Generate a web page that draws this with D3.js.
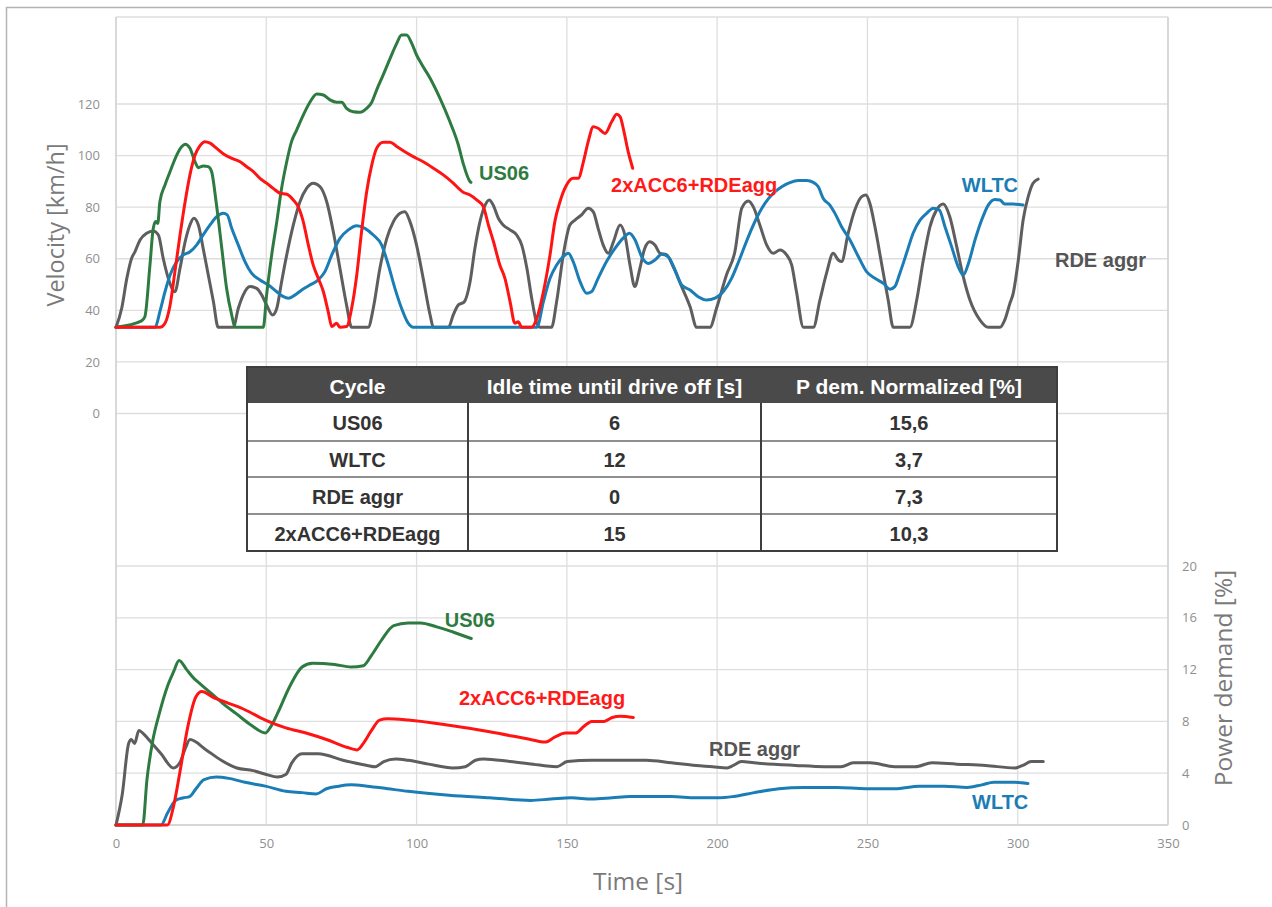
<!DOCTYPE html>
<html>
<head>
<meta charset="utf-8">
<script src="https://cdn.jsdelivr.net/npm/d3@7"></script>
<style>
  html, body { margin: 0; padding: 0; background: #fff; }
  svg { display: block; }
  .tick text { font-family: "Open Sans", "Noto Sans", sans-serif; font-size: 13px; fill: #8f8f8f; }
</style>
</head>
<body>
<svg id="chart" width="1272" height="907"></svg>
<script>
// ---- Velocity traces [time s, km/h] ----
const us06Speed = [[0,33.4],[8.5,35.9],[9.6,37.5],[11.3,57.6],[12.4,71.8],[13.2,74.4],[13.9,73.7],[14.6,82.1],[16.3,88.6],[18.0,93.8],[20.2,100.2],[21.9,103.5],[23.0,104.4],[24.6,102.8],[26.3,97.6],[27.4,95.3],[29.0,96.0],[30.7,95.7],[31.8,93.8],[33.3,82.1],[35.2,64.0],[36.8,48.5],[38.5,38.2],[39.6,33.4],[49.0,33.4],[50.1,45.9],[51.8,61.5],[53.5,74.4],[55.1,87.3],[56.8,97.6],[58.4,105.4],[60.1,109.9],[62.3,115.7],[64.5,120.7],[66.8,123.9],[69.0,123.5],[71.2,121.6],[73.4,120.7],[75.1,120.7],[76.7,118.3],[78.9,117.0],[81.2,116.8],[83.4,118.3],[85.1,120.7],[86.7,125.4],[88.9,131.3],[91.2,137.7],[93.4,143.5],[95.0,146.8],[96.7,146.8],[98.4,143.5],[100.0,139.0],[101.7,135.4],[104.5,130.0],[107.8,122.2],[111.1,113.1],[113.9,104.1],[115.5,97.0],[117.8,89.9],[118.1,89.6]];
const wltcSpeed = [[0,33.4],[13.0,33.4],[14.6,39.5],[16.3,47.2],[18.0,53.7],[20.2,58.9],[22.4,61.5],[24.6,62.7],[26.8,65.3],[29.0,69.2],[31.3,73.1],[33.5,76.3],[35.7,77.6],[37.0,77.0],[38.5,71.8],[40.7,65.3],[42.9,58.9],[45.1,54.4],[47.9,51.8],[50.7,49.8],[53.5,47.2],[55.7,45.3],[57.3,44.7],[59.5,45.9],[61.8,47.9],[64.5,49.8],[67.3,51.8],[69.5,55.0],[71.8,61.5],[74.5,67.9],[77.3,71.2],[80.1,72.8],[82.8,71.8],[85.6,69.2],[88.4,65.3],[90.6,57.6],[92.8,48.5],[95.0,40.8],[97.2,35.0],[98.9,33.4],[140.0,33.4],[142.2,43.4],[144.4,52.4],[146.6,57.6],[148.8,60.8],[150.5,62.1],[152.1,58.9],[154.4,51.1],[156.6,46.6],[158.2,47.2],[160.4,52.4],[163.2,58.9],[166.0,64.0],[168.8,68.1],[170.8,69.9],[172.7,67.3],[174.9,60.8],[177.1,58.2],[179.3,59.5],[181.5,61.7],[183.7,60.8],[186.0,55.6],[188.2,49.8],[191.0,47.9],[193.7,45.3],[196.5,44.0],[199.3,44.7],[202.0,47.2],[204.8,52.4],[207.6,60.2],[210.4,68.6],[213.1,75.7],[215.9,81.5],[218.7,85.4],[221.5,87.9],[224.2,89.5],[227.0,90.3],[229.8,90.3],[232.0,89.6],[233.6,88.0],[235.3,83.4],[237.5,80.8],[239.2,77.6],[241.4,72.4],[244.2,67.3],[247.0,60.8],[249.7,55.0],[252.5,52.4],[255.3,50.5],[257.5,48.2],[259.1,49.2],[260.8,54.4],[263.0,62.1],[265.2,69.9],[267.5,75.0],[269.7,77.6],[271.9,79.6],[273.9,78.9],[275.8,72.4],[278.0,64.7],[280.2,56.9],[281.9,53.7],[283.6,58.2],[285.8,67.3],[288.0,75.0],[290.2,80.8],[292.4,83.0],[294.1,82.8],[295.7,81.2],[298.5,81.2],[301.8,80.8]];
const rdeSpeed = [[0,33.4],[1.9,40.8],[3.6,52.4],[5.2,60.2],[6.3,62.7],[8.0,67.3],[10.2,69.9],[12.4,70.8],[14.1,69.2],[15.7,60.2],[17.4,52.4],[19.6,47.2],[21.3,56.3],[23.0,66.6],[24.6,73.1],[25.9,75.7],[27.4,73.1],[29.0,64.0],[30.7,53.7],[32.4,43.4],[34.0,33.4],[39.0,33.4],[40.7,40.8],[42.3,45.9],[44.6,49.2],[46.8,48.5],[48.5,45.9],[50.1,42.1],[52.1,38.2],[53.5,40.8],[55.1,51.1],[56.8,61.5],[59.0,73.1],[61.2,82.1],[63.4,87.3],[65.6,89.3],[67.9,87.9],[70.1,82.1],[72.3,70.5],[74.5,56.3],[76.7,42.1],[78.4,33.4],[83.9,33.4],[85.6,40.8],[87.8,56.3],[90.1,67.9],[92.3,74.4],[94.5,77.6],[96.1,78.2],[97.8,74.4],[100.0,65.3],[102.2,52.4],[104.5,38.2],[105.6,33.4],[110.6,33.4],[112.2,38.2],[113.9,42.1],[115.8,43.2],[117.8,51.1],[119.4,64.0],[121.1,74.4],[122.8,80.8],[124.2,82.8],[125.5,80.8],[127.2,75.7],[128.8,73.1],[131.1,71.2],[133.3,69.2],[135.0,65.3],[136.7,56.3],[138.3,44.7],[140.0,35.0],[141.1,33.4],[144.9,33.4],[146.6,43.4],[148.8,61.5],[151.0,73.1],[152.7,75.0],[154.9,77.0],[157.1,79.6],[158.8,78.2],[160.4,71.8],[162.1,65.3],[163.8,62.1],[165.5,66.6],[167.7,73.1],[169.3,69.2],[171.0,57.6],[172.6,49.2],[174.3,56.3],[175.9,64.0],[177.6,66.6],[179.3,65.3],[181.0,62.1],[183.2,61.5],[185.4,56.9],[188.2,49.2],[191.0,41.4],[193.2,33.4],[197.6,33.4],[199.8,40.8],[203.1,53.7],[205.9,62.7],[208.2,79.6],[210.4,82.4],[212.0,80.2],[214.2,73.1],[216.5,65.3],[218.7,62.1],[220.9,63.4],[223.1,61.5],[224.8,57.6],[226.4,47.2],[228.7,33.4],[232.0,33.4],[234.2,44.0],[236.4,54.4],[238.6,62.1],[240.3,59.5],[241.4,58.9],[243.6,69.9],[245.8,78.9],[248.1,84.1],[249.5,84.7],[250.8,81.5],[252.5,72.4],[254.7,58.2],[256.9,44.0],[258.6,33.4],[264.1,33.4],[266.4,44.0],[268.6,59.5],[270.8,72.4],[273.0,78.9],[275.2,81.2],[277.4,76.3],[279.7,64.7],[281.9,53.0],[284.1,44.0],[287.4,36.3],[290.2,33.4],[294.1,33.4],[295.7,36.3],[297.4,42.7],[298.5,46.6],[300.2,59.5],[301.8,75.0],[303.5,84.1],[305.1,89.3],[306.8,90.9]];
const accSpeed = [[0,33.4],[14.6,33.4],[16.3,35.0],[18.0,42.1],[19.6,55.0],[21.3,69.2],[23.0,82.1],[24.6,92.5],[26.3,100.2],[27.9,103.8],[29.6,105.4],[31.3,104.8],[33.5,102.8],[36.3,100.2],[39.0,98.7],[41.3,97.6],[43.5,95.7],[45.7,93.8],[47.9,91.2],[50.1,89.3],[52.3,87.3],[54.6,85.4],[56.8,85.0],[59.0,82.8],[60.6,80.2],[62.3,74.4],[64.0,65.3],[65.6,57.6],[67.3,52.4],[69.0,47.2],[70.6,39.5],[71.8,33.7],[73.4,35.0],[74.5,33.4],[76.7,33.7],[78.4,40.8],[80.1,53.7],[81.7,70.5],[83.4,86.0],[85.1,96.4],[86.7,102.8],[88.9,105.2],[91.2,105.2],[93.4,103.5],[96.1,101.5],[98.9,99.6],[102.2,97.6],[105.6,95.1],[108.9,92.5],[112.2,89.3],[115.5,85.8],[117.8,84.7],[120.0,82.8],[122.2,80.2],[123.9,73.1],[125.6,66.6],[127.7,57.6],[129.4,52.4],[131.1,43.4],[132.7,35.0],[133.8,35.6],[135.0,33.4],[138.3,33.4],[140.0,36.9],[142.2,47.2],[144.4,61.5],[146.0,74.4],[147.7,82.1],[149.9,88.6],[152.1,91.2],[153.8,91.2],[155.5,97.6],[157.1,105.4],[158.8,111.2],[160.4,110.6],[162.7,108.6],[164.9,113.1],[166.6,116.0],[167.7,115.1],[169.0,109.3],[170.4,101.5],[171.9,95.1]];

// ---- Power demand traces [time s, %] ----
const us06Power = [[0,0],[8.9,0],[10.3,3.5],[12.3,6.6],[14.4,8.6],[17.1,10.7],[19.1,11.8],[21.0,12.7],[23.5,12.0],[26.0,11.3],[28.0,10.9],[32,10.1],[36,9.3],[40,8.6],[45,7.7],[49.7,7.1],[51.5,7.6],[53.7,8.6],[57.8,10.7],[61.9,12.2],[65.3,12.5],[72.7,12.4],[78.2,12.2],[82.3,12.3],[85.0,13.1],[88.4,14.3],[92.4,15.4],[97.2,15.6],[101.3,15.6],[106.7,15.3],[112.1,14.9],[118.2,14.4]];
const wltcPower = [[0,0],[15.0,0],[17.1,0.9],[19.8,1.9],[22.5,2.1],[24.5,2.2],[26.6,2.8],[29.3,3.5],[33.4,3.7],[37.5,3.6],[42.9,3.3],[49.7,3.0],[56.5,2.6],[61.9,2.5],[66.6,2.4],[70.0,2.8],[74.1,3.0],[78.2,3.1],[83.6,3.0],[90.4,2.8],[97.2,2.6],[110.8,2.3],[124.3,2.1],[137.9,1.9],[144.7,2.0],[151.5,2.1],[158.3,2.0],[165.1,2.1],[171,2.2],[184.8,2.2],[193.0,2.1],[200.6,2.1],[205.4,2.2],[212.3,2.5],[220.5,2.8],[228.8,2.9],[239.8,2.9],[249.5,2.8],[259.1,2.8],[267.3,3.0],[275.6,3.0],[283.2,2.9],[288.0,3.1],[292.1,3.3],[299.0,3.3],[303.4,3.2]];
const rdePower = [[0,0],[2.1,2.4],[4.2,6.3],[5.1,6.6],[6.2,6.3],[7.6,7.3],[8.9,7.1],[11.6,6.4],[15.0,5.5],[19.1,4.4],[21.2,4.8],[23.2,6.0],[24.6,6.6],[30,5.8],[35,5.0],[40.2,4.4],[45.6,4.2],[50,3.9],[53.7,3.7],[56.5,3.9],[58.5,4.8],[61.9,5.5],[67.3,5.5],[75.5,5.0],[83.6,4.6],[86.3,4.5],[89.1,4.9],[93.1,5.1],[97.2,5.0],[104.0,4.7],[112.1,4.4],[116.2,4.5],[119.6,5.0],[122.3,5.1],[131.1,4.9],[142.0,4.6],[146.7,4.5],[150.1,4.9],[158.3,5.0],[165.1,5.0],[173.2,5.0],[176.5,5.0],[184.8,4.8],[193.0,4.6],[198.5,4.5],[203.3,4.4],[205.4,4.6],[208.1,4.9],[212.3,4.8],[226.0,4.6],[235.7,4.5],[241.2,4.5],[245.3,4.8],[250.8,4.8],[259.1,4.5],[265.9,4.5],[271.5,4.8],[279.7,4.7],[289.4,4.6],[299.0,4.4],[301.7,4.6],[304.5,4.9],[308.5,4.9]];
const accPower = [[0,0],[17.1,0],[19.1,1.4],[21.2,4.0],[23.9,7.6],[26.6,9.9],[28.6,10.3],[32.0,9.9],[37.5,9.4],[42.9,8.9],[49.7,8.1],[56.5,7.5],[63.2,7.1],[70.0,6.6],[76.8,6.0],[80.2,5.8],[82.3,6.3],[85.0,7.3],[87.7,8.1],[90.4,8.2],[97.2,8.1],[110.8,7.7],[124.3,7.2],[137.9,6.6],[142.7,6.4],[146.1,6.8],[149.5,7.1],[152.9,7.1],[155.6,7.6],[158.3,8.0],[162.4,8.0],[165.1,8.3],[167.8,8.4],[172.1,8.3]];

// ---- Axis ticks ----
const timeTicks = [0, 50, 100, 150, 200, 250, 300, 350];
const speedTicks = [0, 20, 40, 60, 80, 100, 120];
const powerTicks = [0, 4, 8, 12, 16, 20];

// ---- Summary table ----
const tableHeader = ["Cycle", "Idle time until drive off [s]", "P dem. Normalized [%]"];
const tableCycles = ["US06", "WLTC", "RDE aggr", "2xACC6+RDEagg"];
const tableIdle = ["6", "12", "0", "15"];
const tablePdem = ["15,6", "3,7", "7,3", "10,3"];

// ---- Series styling ----
const series = [
  { name: "RDE aggr",      speed: rdeSpeed,  power: rdePower,  color: "#5e5e60", labelColor: "#555555",
    speedLabel: [312.4, 56.8], powerLabel: [197.3, 5.3] },
  { name: "WLTC",          speed: wltcSpeed, power: wltcPower, color: "#1b7db5", labelColor: "#1b7db5",
    speedLabel: [281.4, 85.9], powerLabel: [284.8, 1.2] },
  { name: "US06",          speed: us06Speed, power: us06Power, color: "#2e7b42", labelColor: "#2e7b42",
    speedLabel: [120.8, 90.5], powerLabel: [109.4, 15.3] },
  { name: "2xACC6+RDEagg", speed: accSpeed,  power: accPower,  color: "#ff1414", labelColor: "#ff1a1a",
    speedLabel: [164.7, 85.9], powerLabel: [114.1, 9.3] }
];

const svg = d3.select("#chart");
const plotLeft = 116, plotRight = 1168, plotTop = 17, plotBottom = 825;

const x = d3.scaleLinear().domain([0, 350]).range([plotLeft, plotRight]);
const ySpeed = d3.scaleLinear().domain([0, 120]).range([413.5, 104]);
const yPower = d3.scaleLinear().domain([0, 20]).range([plotBottom, 566]);

// outer frame
svg.append("path")
  .attr("d", "M6.5,907 L6.5,7.5 L1272,7.5")
  .attr("fill", "none").attr("stroke", "#b4b4b4").attr("stroke-width", 1.5);

// gridlines
const grid = svg.append("g").attr("stroke", "#dedede").attr("stroke-width", 1.3);
timeTicks.forEach(t => {
  grid.append("line").attr("x1", x(t)).attr("x2", x(t)).attr("y1", plotTop).attr("y2", plotBottom);
});
speedTicks.forEach(v => {
  grid.append("line").attr("x1", plotLeft).attr("x2", plotRight).attr("y1", ySpeed(v)).attr("y2", ySpeed(v));
});
powerTicks.forEach(p => {
  grid.append("line").attr("x1", plotLeft).attr("x2", plotRight).attr("y1", yPower(p)).attr("y2", yPower(p));
});
grid.append("line").attr("x1", plotLeft).attr("x2", plotRight).attr("y1", plotTop).attr("y2", plotTop);
grid.append("line").attr("x1", plotLeft).attr("x2", plotLeft).attr("y1", plotTop).attr("y2", plotBottom).attr("stroke", "#d0d0d0");
grid.append("line").attr("x1", plotRight).attr("x2", plotRight).attr("y1", plotTop).attr("y2", plotBottom).attr("stroke", "#d0d0d0");
grid.append("line").attr("x1", plotLeft).attr("x2", plotRight).attr("y1", plotBottom).attr("y2", plotBottom).attr("stroke", "#d0d0d0");

// axes (labels only)
const axL = svg.append("g").attr("transform", `translate(${plotLeft},0)`)
  .call(d3.axisLeft(ySpeed).tickValues(speedTicks).tickSize(0).tickPadding(16));
const axR = svg.append("g").attr("transform", `translate(${plotRight},0)`)
  .call(d3.axisRight(yPower).tickValues(powerTicks).tickSize(0).tickPadding(14));
const axB = svg.append("g").attr("transform", `translate(0,${plotBottom})`)
  .call(d3.axisBottom(x).tickValues(timeTicks).tickSize(0).tickPadding(14));
[axL, axR, axB].forEach(a => a.select(".domain").remove());

// axis titles
const titleFont = "'Open Sans', 'Noto Sans', sans-serif";
svg.append("text").attr("transform", "translate(64,225) rotate(-90)")
  .attr("text-anchor", "middle").attr("font-family", titleFont).attr("font-size", 23.5)
  .attr("fill", "#7a7a7a").text("Velocity [km/h]");
svg.append("text").attr("transform", "translate(1232,678) rotate(-90)")
  .attr("text-anchor", "middle").attr("font-family", titleFont).attr("font-size", 24.5)
  .attr("fill", "#7a7a7a").text("Power demand [%]");
svg.append("text").attr("x", 638).attr("y", 890)
  .attr("text-anchor", "middle").attr("font-family", titleFont).attr("font-size", 24.5)
  .attr("fill", "#7a7a7a").text("Time [s]");

// traces
const lineSpeed = d3.line().x(d => x(d[0])).y(d => ySpeed(d[1])).curve(d3.curveMonotoneX);
const linePower = d3.line().x(d => x(d[0])).y(d => yPower(d[1])).curve(d3.curveMonotoneX);
const traces = svg.append("g").attr("fill", "none").attr("stroke-width", 3).attr("stroke-linejoin", "round").attr("stroke-linecap", "round");
series.forEach(s => {
  traces.append("path").attr("d", lineSpeed(s.speed)).attr("stroke", s.color);
  traces.append("path").attr("d", linePower(s.power)).attr("stroke", s.color);
});

// series labels
const labelFont = "'Liberation Sans', Arial, sans-serif";
series.forEach(s => {
  svg.append("text").attr("x", x(s.speedLabel[0])).attr("y", ySpeed(s.speedLabel[1]))
    .attr("font-family", labelFont).attr("font-weight", "bold").attr("font-size", 20)
    .attr("fill", s.labelColor).text(s.name);
  svg.append("text").attr("x", x(s.powerLabel[0])).attr("y", yPower(s.powerLabel[1]))
    .attr("font-family", labelFont).attr("font-weight", "bold").attr("font-size", 20)
    .attr("fill", s.labelColor).text(s.name);
});

// summary table
const tbl = svg.append("g");
const colX = [247, 468, 761, 1057];
const rowY = [367, 403, 441, 477, 514, 551];
tbl.append("rect").attr("x", colX[0]).attr("y", rowY[0]).attr("width", colX[3] - colX[0]).attr("height", rowY[5] - rowY[0])
  .attr("fill", "#fff");
tbl.append("rect").attr("x", colX[0]).attr("y", rowY[0]).attr("width", colX[3] - colX[0]).attr("height", rowY[1] - rowY[0])
  .attr("fill", "#4a4a4a");
for (let r = 2; r < 5; r++) {
  tbl.append("line").attr("x1", colX[0]).attr("x2", colX[3]).attr("y1", rowY[r]).attr("y2", rowY[r])
    .attr("stroke", "#6a6a6a").attr("stroke-width", 1.5);
}
for (let c = 1; c < 3; c++) {
  tbl.append("line").attr("x1", colX[c]).attr("x2", colX[c]).attr("y1", rowY[1]).attr("y2", rowY[5])
    .attr("stroke", "#3e3e3e").attr("stroke-width", 2);
}
tbl.append("rect").attr("x", colX[0]).attr("y", rowY[0]).attr("width", colX[3] - colX[0]).attr("height", rowY[5] - rowY[0])
  .attr("fill", "none").attr("stroke", "#3e3e3e").attr("stroke-width", 2);

const colMid = [0, 1, 2].map(c => (colX[c] + colX[c + 1]) / 2);
tableHeader.forEach((h, c) => {
  tbl.append("text").attr("x", colMid[c]).attr("y", (rowY[0] + rowY[1]) / 2 + 1)
    .attr("text-anchor", "middle").attr("dominant-baseline", "central")
    .attr("font-family", labelFont).attr("font-weight", "bold").attr("font-size", 21)
    .attr("fill", "#ffffff").text(h);
});
tableCycles.forEach((name, r) => {
  const yMid = (rowY[r + 1] + rowY[r + 2]) / 2 + 1;
  [name, tableIdle[r], tablePdem[r]].forEach((val, c) => {
    tbl.append("text").attr("x", colMid[c]).attr("y", yMid)
      .attr("text-anchor", "middle").attr("dominant-baseline", "central")
      .attr("font-family", labelFont).attr("font-weight", "bold").attr("font-size", 20)
      .attr("fill", "#333333").text(val);
  });
});
</script>
</body>
</html>
